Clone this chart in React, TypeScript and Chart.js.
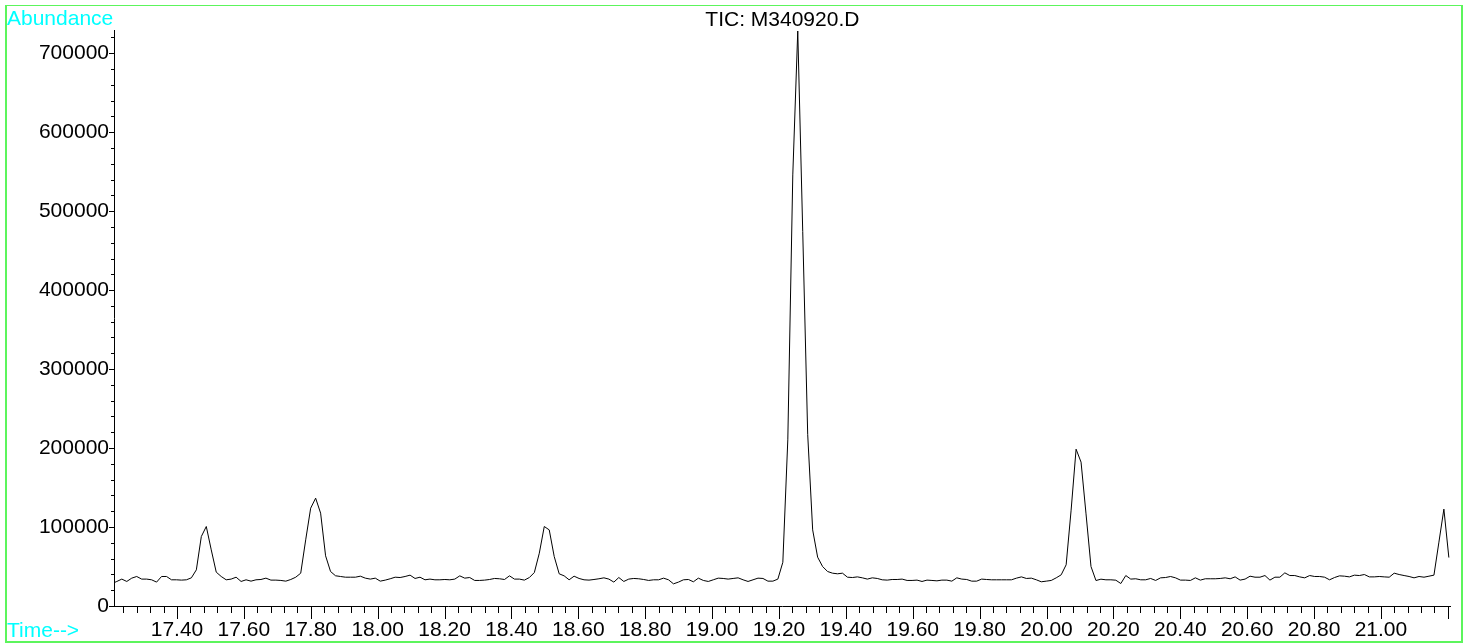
import { useEffect, useRef } from "react";
import { Chart, registerables } from "chart.js";

Chart.register(...registerables);

// ---- data ----
const titleText = "TIC: M340920.D";
const yAxisName = "Abundance";
const xAxisName = "Time-->";

// uniform scan grid of the instrument (minutes)
const scanStart = 17.2052;
const scanInterval = 0.014862;

// total ion current per scan
const abundance = [
  29000, 31700, 34700, 31700, 35900, 38000, 34700, 34700, 33800, 30900,
  38000, 38000, 33800, 33800, 33400, 33800, 36300, 46400, 88600, 101300,
  71700, 43500, 38000, 33800, 34700, 37100, 31700, 33800, 32100, 33800,
  34200, 35900, 33400, 33400, 33000, 32100, 34200, 37100, 42200, 84400,
  124500, 137200, 118200, 64200, 44300, 38900, 38000, 37100, 37100, 37100,
  38400, 35900, 34700, 35900, 32100, 33400, 35100, 37100, 36700, 38000,
  39700, 35500, 37100, 33800, 34700, 33800, 33800, 34200, 33800, 34700,
  38800, 35900, 36700, 33000, 33000, 33400, 34200, 35500, 35100, 34200,
  38800, 34700, 34700, 33400, 36700, 43000, 67500, 101300, 97000, 63300,
  41400, 38800, 33800, 38400, 35500, 33800, 33400, 34200, 35100, 36300,
  34700, 30900, 36700, 31700, 34700, 35500, 35100, 34200, 33000, 33800,
  33800, 35900, 33800, 28700, 30900, 33800, 34200, 31300, 35900, 33000,
  31700, 33800, 35900, 35500, 34700, 35500, 36300, 33800, 31700, 33800,
  35900, 35500, 32100, 32100, 34700, 56000, 211000, 546500, 728700, 475000,
  218000, 97000, 62500, 50600, 44300, 42200, 41400, 42200, 37100, 36700,
  37500, 36300, 34700, 36300, 35500, 33800, 33400, 34200, 34200, 34700,
  33000, 33000, 33400, 31700, 33400, 33000, 32500, 33400, 33400, 32100,
  36300, 34700, 34200, 32100, 32100, 34700, 34200, 33800, 33800, 33800,
  33800, 33800, 35900, 37500, 35500, 35900, 33800, 31300, 32100, 33000,
  36300, 40100, 52800, 122000, 199200, 182800, 117300, 50600, 32900, 34600,
  33800, 33800, 33300, 29100, 39200, 34700, 35100, 33800, 33800, 35500,
  33000, 36300, 36700, 38000, 36300, 33400, 33400, 33000, 36300, 33400,
  35100, 35100, 35100, 35500, 36300, 35100, 37500, 33400, 34700, 38400,
  37100, 37100, 39200, 33400, 37100, 37100, 42600, 39200, 39200, 37500,
  36300, 39200, 38000, 38000, 37100, 33800, 36700, 38800, 38400, 37500,
  39700, 39200, 40500, 37500, 37500, 38000, 37500, 37100, 42200, 40500,
  39200, 38000, 36300, 38000, 37100, 38400, 39700, 81500, 123300, 62000,
];

// axis ranges and tick steps
const xMin = 17.2116;
const xMax = 21.2086;
const xMinorStep = 0.04;
const yMin = 0;
const yMax = 730000;
const yMinorStep = 20000;
const yMajorStep = 100000;

const FONT = '"Liberation Sans", Arial, Helvetica, sans-serif';
const CYAN = "#00ffff";
const FRAME = "#5cf55c";

const isXMajor = (v: number) => Math.round(v * 100) % 20 === 0;
const isYMajor = (v: number) => Math.round(v) % yMajorStep === 0;

const decorPlugin = {
  id: "decor",
  afterDraw(chart: any) {
    const ctx: CanvasRenderingContext2D = chart.ctx;
    const { left, right, bottom } = chart.chartArea;
    const xs = chart.scales.x;
    const ys = chart.scales.y;
    ctx.save();
    // tick marks
    ctx.strokeStyle = "#000";
    ctx.lineWidth = 1;
    ctx.beginPath();
    const yb = Math.floor(bottom);
    xs.ticks.forEach((t: any) => {
      const px = Math.round(xs.getPixelForValue(t.value)) + 0.5;
      const len = isXMajor(t.value) ? 12 : 6;
      ctx.moveTo(px, yb);
      ctx.lineTo(px, yb + len + 1);
    });
    const xl = Math.floor(left);
    ys.ticks.forEach((t: any) => {
      const py = Math.floor(ys.getPixelForValue(t.value)) + 0.5;
      const len = isYMajor(t.value) ? 5 : 3;
      ctx.moveTo(xl - len, py);
      ctx.lineTo(xl + 1, py);
    });
    ctx.stroke();

    // frame
    ctx.fillStyle = FRAME;
    ctx.fillRect(6, 5, 1457, 1); // top
    ctx.fillRect(5, 5, 2, 638); // left
    ctx.fillRect(1461, 5, 2, 638); // right
    ctx.fillRect(5, 641, 1458, 2); // bottom

    // texts
    ctx.font = `21px ${FONT}`;
    ctx.textBaseline = "alphabetic";
    ctx.fillStyle = "#000";
    ctx.textAlign = "center";
    ctx.fillText(titleText, (left + right) / 2, 25.5);
    ctx.fillStyle = CYAN;
    ctx.textAlign = "left";
    ctx.fillText(yAxisName, 7, 25);
    ctx.fillText(xAxisName, 7, 637);
    ctx.restore();
  },
};

export default function App() {
  const ref = useRef<HTMLCanvasElement>(null);
  useEffect(() => {
    const points = abundance.map((v, i) => ({ x: scanStart + i * scanInterval, y: v }));
    const yTickValues: number[] = [];
    for (let v = yMin; v <= yMax; v += yMinorStep) yTickValues.push(v);
    const chart = new Chart(ref.current!, {
      type: "line",
      data: {
        datasets: [
          {
            data: points,
            borderColor: "#000",
            borderWidth: 1,
            pointRadius: 0,
            tension: 0,
            fill: false,
          },
        ],
      },
      options: {
        animation: false,
        responsive: false,
        devicePixelRatio: 1,
        layout: { padding: { top: 30, right: 16.3, left: 0, bottom: 0 } },
        plugins: { legend: { display: false }, tooltip: { enabled: false }, title: { display: false } },
        scales: {
          x: {
            type: "linear",
            min: xMin,
            max: xMax,
            grid: { display: false, drawTicks: false },
            border: { display: true, color: "#000", width: 1 },
            ticks: {
              stepSize: xMinorStep,
              includeBounds: false,
              autoSkip: false,
              maxRotation: 0,
              minRotation: 0,
              padding: 11,
              color: "#000",
              font: { family: FONT, size: 21 },
              callback: (v: any) => {
                const n = Number(v);
                return isXMajor(n) && n < xMax - 0.1 ? n.toFixed(2) : "";
              },
            },
            afterFit: (s: any) => {
              s.height = 37.5;
            },
          },
          y: {
            type: "linear",
            min: yMin,
            max: yMax,
            grid: { display: false, drawTicks: false },
            border: { display: true, color: "#000", width: 1 },
            afterBuildTicks: (s: any) => {
              s.ticks = yTickValues.map((v) => ({ value: v }));
            },
            ticks: {
              autoSkip: false,
              padding: 5,
              color: "#000",
              font: { family: FONT, size: 21 },
              callback: (v: any) => (isYMajor(Number(v)) ? String(Math.round(Number(v))) : ""),
            },
            afterFit: (s: any) => {
              s.width = 114;
            },
          },
        },
      },
      plugins: [decorPlugin],
    });
    return () => chart.destroy();
  }, []);
  return (
    <div style={{ position: "absolute", left: 0, top: 0, width: 1467, height: 644, background: "#fff" }}>
      <canvas ref={ref} width={1467} height={644} style={{ display: "block" }} />
    </div>
  );
}
